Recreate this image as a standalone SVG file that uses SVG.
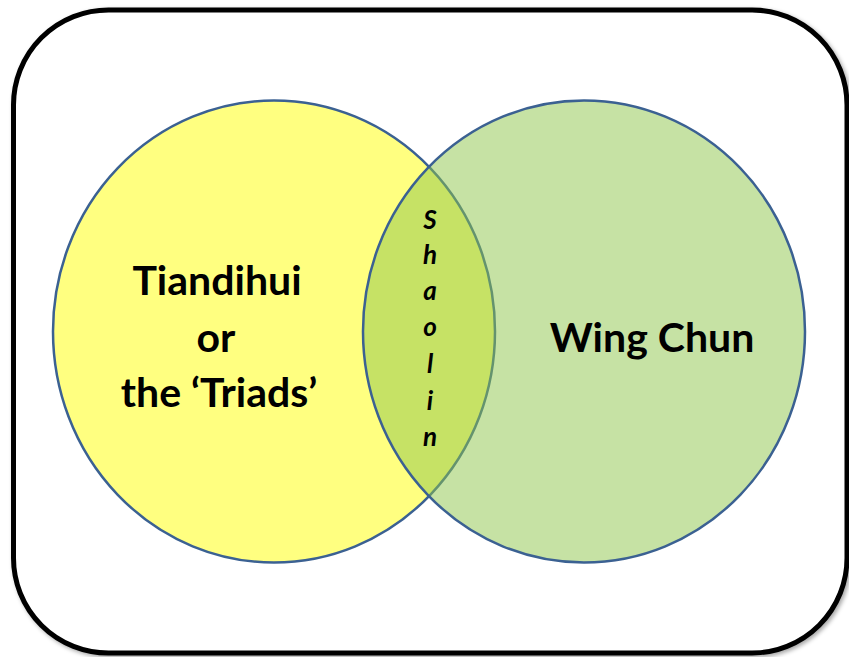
<svg xmlns="http://www.w3.org/2000/svg" width="849" height="657" viewBox="0 0 849 657">
  <defs>
    <filter id="softShadow" x="-5%" y="-5%" width="110%" height="110%">
      <feDropShadow dx="2" dy="2" stdDeviation="2" flood-color="#000" flood-opacity="0.35"/>
    </filter>
  </defs>
  <style>
    .frame { fill: #ffffff; stroke: #000000; stroke-width: 5; }
    .set { stroke: #3b6192; stroke-width: 2.5; }
    .big { font-family: Lato, "Open Sans", "Liberation Sans", sans-serif; font-weight: bold; font-size: 41px; fill: #000; text-anchor: middle; }
    .vert { font-family: Lato, "Open Sans", "Liberation Sans", sans-serif; font-weight: bold; font-style: italic; font-size: 26px; fill: #000; text-anchor: middle; }
  </style>

  <!-- outer rounded frame -->
  <rect id="frame" class="frame" x="13.5" y="10" width="833.5" height="643" rx="95" ry="95" filter="url(#softShadow)"/>

  <!-- left set -->
  <g id="tiandihui">
    <ellipse class="set" cx="274" cy="331.5" rx="221" ry="231" fill="#ffff80"/>
    <text class="big" x="217" y="295">Tiandihui</text>
    <text class="big" x="216" y="352">or</text>
    <text class="big" x="219" y="407">the ‘Triads’</text>
  </g>

  <!-- right set, translucent so the overlap mixes -->
  <g id="wing-chun">
    <ellipse class="set" cx="584" cy="331.5" rx="221" ry="231" fill="#8dc549" fill-opacity="0.5"/>
    <text class="big" x="652" y="352">Wing Chun</text>
  </g>

  <!-- overlap label, one letter per line -->
  <g id="shaolin">
    <text class="vert" x="430" y="229">S</text>
    <text class="vert" x="430" y="264">h</text>
    <text class="vert" x="430" y="300">a</text>
    <text class="vert" x="430" y="336">o</text>
    <text class="vert" x="430" y="373">l</text>
    <text class="vert" x="430" y="410">i</text>
    <text class="vert" x="430" y="446">n</text>
  </g>

  <g id="connectors"/>
</svg>
